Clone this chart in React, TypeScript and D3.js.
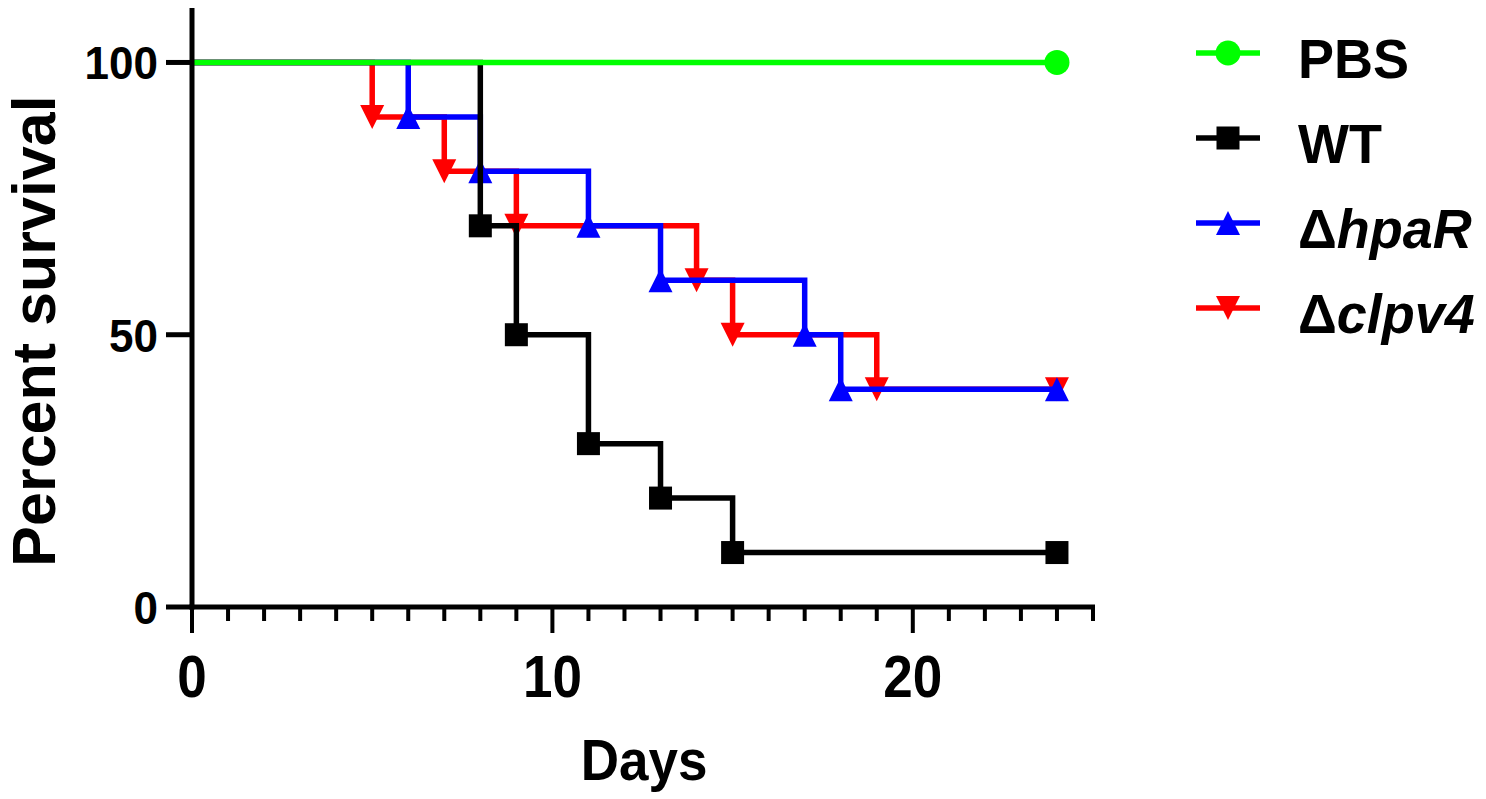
import React from 'react';
import * as d3 from 'd3';

// survival data (days, percent) for each group
const pbsDays = [0, 24];
const pbsSurvival = [100, 100];
const wtDays = [0, 8, 9, 11, 13, 15, 24];
const wtSurvival = [100, 70, 50, 30, 20, 10, 10];
const hpaRDays = [0, 6, 8, 11, 13, 17, 18, 24];
const hpaRSurvival = [100, 90, 80, 70, 60, 50, 40, 40];
const clpv4Days = [0, 5, 7, 9, 14, 15, 19, 24];
const clpv4Survival = [100, 90, 80, 70, 60, 50, 40, 40];

const xTicks = [0, 10, 20];
const yTicks = [0, 50, 100];
const xMinorTicks = d3.range(0, 26);

type Pt = { day: number; pct: number };
type Series = { key: string; prefix: string; name: string; italic: boolean; color: string; marker: string; pts: Pt[] };

const zip = (days: number[], vals: number[]): Pt[] => days.map((d, i) => ({ day: d, pct: vals[i] }));

// drawn in this order (later on top)
const series: Series[] = [
  { key: 'clpv4', prefix: 'Δ', name: 'clpv4', italic: true, color: '#ff0000', marker: 'down', pts: zip(clpv4Days, clpv4Survival) },
  { key: 'hpaR', prefix: 'Δ', name: 'hpaR', italic: true, color: '#0000ff', marker: 'up', pts: zip(hpaRDays, hpaRSurvival) },
  { key: 'WT', prefix: '', name: 'WT', italic: false, color: '#000000', marker: 'square', pts: zip(wtDays, wtSurvival) },
  { key: 'PBS', prefix: '', name: 'PBS', italic: false, color: '#00ff00', marker: 'circle', pts: zip(pbsDays, pbsSurvival) },
];
const legendOrder = ['PBS', 'WT', 'hpaR', 'clpv4'];

const W = 1486;
const H = 799;
const FONT = '"Liberation Sans", Arial, Helvetica, sans-serif';

const Marker: React.FC<{ type: string; x: number; y: number; color: string }> = ({ type, x, y, color }) => {
  const s = 12;
  if (type === 'circle') return <circle cx={x} cy={y} r={12.5} fill={color} />;
  if (type === 'square') return <rect x={x - 11.5} y={y - 11.5} width={23} height={23} fill={color} />;
  if (type === 'up') return <path d={`M${x - s},${y + s}L${x + s},${y + s}L${x},${y - s}Z`} fill={color} />;
  return <path d={`M${x - s},${y - s}L${x + s},${y - s}L${x},${y + s}Z`} fill={color} />;
};

export default function App() {
  const x = d3.scaleLinear().domain([0, 25]).range([192, 1093]);
  const y = d3.scaleLinear().domain([0, 110]).range([607, 8]);

  const line = d3
    .line<Pt>()
    .x((d) => x(d.day))
    .y((d) => y(d.pct))
    .curve(d3.curveStepAfter);

  const x0 = x(0);
  const y0 = y(0);

  return (
    <div style={{ position: 'absolute', left: 0, top: 0 }}>
      <svg width={W} height={H} style={{ display: 'block', background: '#fff' }} fontFamily={FONT}>
        {/* step curves */}
        {series.map((s) => (
          <g key={s.key}>
            <path d={line(s.pts) || ''} fill="none" stroke={s.color} strokeWidth={5.5} strokeLinejoin="miter" />
            {s.pts.slice(1).map((p, i) => (
              <Marker key={i} type={s.marker} x={x(p.day)} y={y(p.pct)} color={s.color} />
            ))}
          </g>
        ))}

        {/* axes */}
        <g stroke="#000" strokeWidth={5}>
          <line x1={x0} x2={x0} y1={y(110)} y2={y0 + 2.5} />
          <line x1={x0 - 2.5} x2={x(25) + 2} y1={y0} y2={y0} />
          {xMinorTicks.map((t) => (
            <line
              key={t}
              x1={x(t)}
              x2={x(t)}
              y1={y0}
              y2={xTicks.includes(t) ? y0 + 26 : y0 + 14}
              strokeWidth={4}
            />
          ))}
          {yTicks.map((t) => (
            <line key={t} x1={x0 - 26} x2={x0} y1={y(t)} y2={y(t)} />
          ))}
        </g>

        {/* tick labels */}
        {xTicks.map((t) => (
          <text
            key={t}
            transform={`translate(${x(t)},697) scale(1,1.13)`}
            textAnchor="middle"
            fontSize={53}
            fontWeight="bold"
          >
            {t}
          </text>
        ))}
        {yTicks.map((t) => (
          <text
            key={t}
            transform={`translate(158,${y(t) + 17}) scale(1,1.06)`}
            textAnchor="end"
            fontSize={44}
            fontWeight="bold"
          >
            {t}
          </text>
        ))}

        {/* axis titles */}
        <text transform="translate(644,780) scale(1,1.08)" textAnchor="middle" fontSize={53} fontWeight="bold">
          Days
        </text>
        <text transform="translate(55,331) rotate(-90)" textAnchor="middle" fontSize={61} fontWeight="bold">
          Percent survival
        </text>

        {/* legend */}
        {legendOrder.map((k, i) => {
          const s = series.find((d) => d.key === k)!;
          const ly = 53 + i * 85;
          return (
            <g key={k}>
              <line x1={1196} x2={1260} y1={ly} y2={ly} stroke={s.color} strokeWidth={5.5} />
              <Marker type={s.marker} x={1228} y={ly} color={s.color} />
              <text transform={`translate(1298,${ly + 25}) scale(1,1.04)`} fontSize={54} fontWeight="bold">
                {s.prefix && <tspan fontWeight="bold">{s.prefix}</tspan>}
                <tspan fontStyle={s.italic ? 'italic' : 'normal'}>{s.name}</tspan>
              </text>
            </g>
          );
        })}
      </svg>
    </div>
  );
}
